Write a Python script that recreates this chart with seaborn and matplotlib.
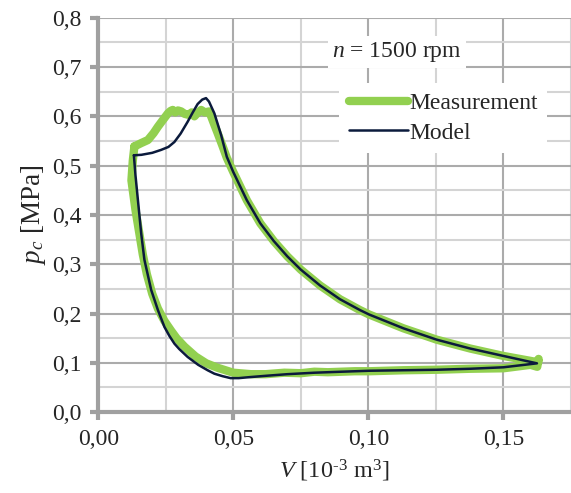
import pandas as pd
import seaborn as sns
import matplotlib.pyplot as plt
from matplotlib.ticker import MultipleLocator, FuncFormatter

meas_V = [0.0134, 0.0160, 0.0184, 0.0205, 0.0221, 0.0240, 0.0258, 0.0268, 0.0276, 0.0285,
          0.0295, 0.0307, 0.0320, 0.0335, 0.0346, 0.0356, 0.0366, 0.0381, 0.0395, 0.0411,
          0.0425, 0.0442, 0.0460, 0.0476, 0.0500, 0.0550, 0.0600, 0.0650, 0.0700, 0.0750,
          0.0821, 0.0895, 0.0969, 0.1003, 0.1130, 0.1253, 0.1377, 0.1500, 0.1600, 0.1628,
          0.1630, 0.1625, 0.1600, 0.1500, 0.1377, 0.1253, 0.1130, 0.1006, 0.0950, 0.0850,
          0.0800, 0.0750, 0.0689, 0.0620, 0.0565, 0.0500, 0.0442, 0.0400, 0.0360, 0.0319,
          0.0290, 0.0270, 0.0245, 0.0221, 0.0200, 0.0180, 0.0165, 0.0150, 0.0138, 0.0128,
          0.0123, 0.0128, 0.0134]
meas_p = [0.539, 0.546, 0.552, 0.566, 0.579, 0.593, 0.606, 0.611, 0.613, 0.608,
          0.612, 0.610, 0.605, 0.603, 0.608, 0.600, 0.606, 0.613, 0.608, 0.610,
          0.590, 0.566, 0.540, 0.516, 0.487, 0.430, 0.383, 0.347, 0.316, 0.289,
          0.257, 0.229, 0.207, 0.198, 0.170, 0.147, 0.129, 0.114, 0.104, 0.101,
          0.108, 0.092, 0.096, 0.089, 0.088, 0.086, 0.085, 0.083, 0.083, 0.081,
          0.082, 0.079, 0.080, 0.077, 0.077, 0.080, 0.090, 0.099, 0.113, 0.133,
          0.150, 0.165, 0.185, 0.210, 0.240, 0.280, 0.320, 0.370, 0.410, 0.450,
          0.470, 0.510, 0.539]

# Model p-V loop
model_V = [0.0132, 0.0160, 0.0200, 0.0233, 0.0260, 0.0282, 0.0305, 0.0331, 0.0350, 0.0368,
           0.0385, 0.0399, 0.0410, 0.0430, 0.0455, 0.0476, 0.0500, 0.0550, 0.0600, 0.0650,
           0.0700, 0.0750, 0.0821, 0.0895, 0.0969, 0.1003, 0.1130, 0.1253, 0.1377, 0.1500,
           0.1624, 0.1500, 0.1377, 0.1253, 0.1130, 0.1006, 0.0900, 0.0800, 0.0700, 0.0627,
           0.0560, 0.0520, 0.0490, 0.0460, 0.0430, 0.0405, 0.0370, 0.0331, 0.0300, 0.0282,
           0.0263, 0.0245, 0.0221, 0.0196, 0.0171, 0.0159, 0.0147, 0.0138, 0.0132]
model_p = [0.521, 0.522, 0.526, 0.532, 0.538, 0.548, 0.565, 0.589, 0.608, 0.625,
           0.634, 0.637, 0.630, 0.606, 0.562, 0.518, 0.487, 0.430, 0.383, 0.347,
           0.316, 0.289, 0.257, 0.229, 0.207, 0.198, 0.170, 0.147, 0.129, 0.114,
           0.099, 0.091, 0.088, 0.086, 0.085, 0.084, 0.082, 0.080, 0.077, 0.074,
           0.071, 0.069, 0.069, 0.073, 0.078, 0.085, 0.096, 0.112, 0.128, 0.139,
           0.155, 0.173, 0.207, 0.248, 0.309, 0.363, 0.430, 0.480, 0.521]

meas = pd.DataFrame({"V": meas_V, "p": meas_p})
model = pd.DataFrame({"V": model_V, "p": model_p})

sns.set_style("white")
plt.rcParams["font.family"] = ["Liberation Serif", "DejaVu Serif"]
plt.rcParams["mathtext.fontset"] = "custom"
plt.rcParams["mathtext.rm"] = "Liberation Serif"
plt.rcParams["mathtext.it"] = "Liberation Serif:italic"

fig = plt.figure(figsize=(5.71, 4.93), dpi=100)
ax = fig.add_axes([0.172, 0.164, 0.828, 0.800])

sns.lineplot(x="V", y="p", data=meas, sort=False, estimator=None, color="#92D050",
             linewidth=6, solid_capstyle="round", solid_joinstyle="round",
             label="Measurement", ax=ax, zorder=3)
sns.lineplot(x="V", y="p", data=model, sort=False, estimator=None, color="#0B1A3C",
             linewidth=1.8, solid_joinstyle="round", label="Model", ax=ax, zorder=4)

ax.set_xlim(0, 0.175)
ax.set_ylim(0, 0.8)
ax.xaxis.set_major_locator(MultipleLocator(0.05))
ax.xaxis.set_minor_locator(MultipleLocator(0.025))
ax.yaxis.set_major_locator(MultipleLocator(0.1))
ax.yaxis.set_minor_locator(MultipleLocator(0.05))
ax.xaxis.set_major_formatter(FuncFormatter(lambda v, _: f"{v:.2f}".replace(".", ",")))
ax.yaxis.set_major_formatter(FuncFormatter(lambda v, _: f"{v:.1f}".replace(".", ",")))

ax.grid(which="major", color="#ABABAB", linewidth=1.5)
ax.grid(which="minor", color="#D4D4D4", linewidth=1.5)
ax.set_axisbelow(True)
for s in ["top", "right"]:
    ax.spines[s].set_visible(False)
for s in ["left", "bottom"]:
    ax.spines[s].set_color("#A0A0A0")
    ax.spines[s].set_linewidth(3)
ax.tick_params(which="major", direction="out", length=6, width=3, color="#A0A0A0",
               labelsize=17, pad=6, left=True, bottom=True)
ax.tick_params(which="minor", length=0)

ax.set_xlabel(r"$V$ [10$^{\text{-3}}$ m$^{3}$]", fontsize=17.5, labelpad=6)
ax.set_ylabel(r"$p_c$ [MPa]", fontsize=19.5, labelpad=3)

ax.text(0.1105, 0.731, r"$n$ = 1500 rpm", fontsize=17, ha="center", va="center",
        bbox=dict(facecolor="white", edgecolor="none", pad=3), zorder=5)

leg = ax.legend(loc="upper left", bbox_to_anchor=(0.485, 0.865), fontsize=17,
                frameon=True, handlelength=2.5, handletextpad=0.05, labelspacing=0.35,
                borderpad=0.4, fancybox=False)
leg.get_frame().set_facecolor("white")
leg.get_frame().set_edgecolor("none")
leg.get_frame().set_alpha(1)

plt.savefig("out.png", dpi=100)
